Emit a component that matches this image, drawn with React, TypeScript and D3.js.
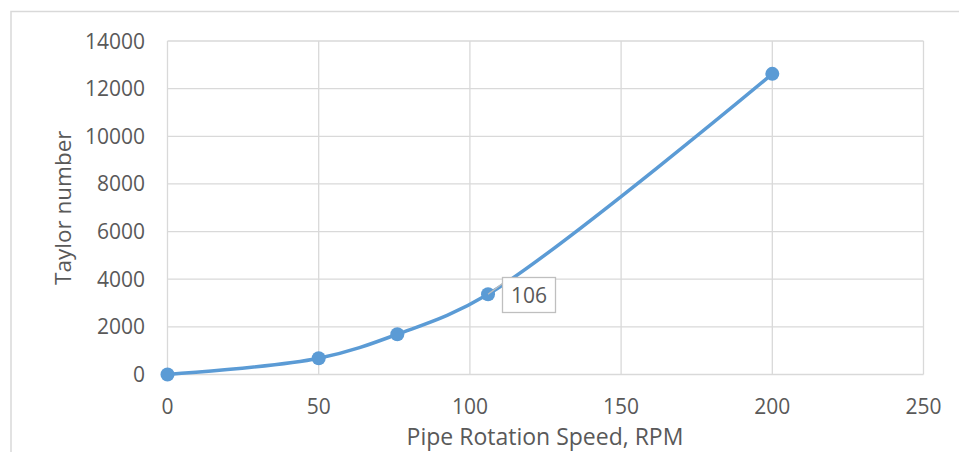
import React from "react";
import * as d3 from "d3";

const rpm: number[] = [0, 50, 76, 106, 200];
const taylor: number[] = [0, 680, 1690, 3370, 12620];
const xTicks: number[] = [0, 50, 100, 150, 200, 250];
const yTicks: number[] = [0, 2000, 4000, 6000, 8000, 10000, 12000, 14000];
const xTitle = "Pipe Rotation Speed, RPM";
const yTitle = "Taylor number";
const labelIndex = 3;

const W = 959;
const H = 452;
const FONT = "'Open Sans', Lato, sans-serif";
const TXT = "#595959";
const GRID = "#d9d9d9";
const BLUE = "#5b9bd5";

export default function App() {
  const x = d3.scaleLinear().domain([0, 250]).range([167.5, 923.5]);
  const y = d3.scaleLinear().domain([0, 14000]).range([374.5, 41]);
  const pts: [number, number][] = rpm.map((r, i) => [x(r), y(taylor[i])]);
  const line = d3.line().curve(d3.curveCatmullRom.alpha(0.5))(pts) || "";
  const lp = pts[labelIndex];
  const bx = 502.5, by = 277.5, bw = 53, bh = 35;
  return (
    <svg
      width={W}
      height={H}
      style={{ position: "absolute", left: 0, top: 0, background: "#fff" }}
    >
      <rect x={11} y={11.5} width={W} height={H} fill="none" stroke={GRID} strokeWidth={1.5} />
      {xTicks.map((t) => (
        <line key={"gx" + t} x1={x(t)} x2={x(t)} y1={y(14000)} y2={y(0)} stroke={GRID} strokeWidth={1.3} />
      ))}
      {yTicks.map((t) => (
        <line key={"gy" + t} x1={x(0)} x2={x(250)} y1={y(t)} y2={y(t)} stroke={GRID} strokeWidth={1.3} />
      ))}
      {yTicks.map((t) => (
        <text key={"ty" + t} x={145} y={y(t) + 7.5} textAnchor="end" fontFamily={FONT} fontSize={21} fill={TXT}>
          {t}
        </text>
      ))}
      {xTicks.map((t) => (
        <text key={"tx" + t} x={x(t)} y={413.5} textAnchor="middle" fontFamily={FONT} fontSize={21} fill={TXT}>
          {t}
        </text>
      ))}
      <text x={545} y={445} textAnchor="middle" fontFamily={FONT} fontSize={23} fill={TXT}>
        {xTitle}
      </text>
      <text
        transform={`translate(71,${(y(0) + y(14000)) / 2}) rotate(-90)`}
        textAnchor="middle"
        fontFamily={FONT}
        fontSize={22.5}
        fill={TXT}
      >
        {yTitle}
      </text>
      <path d={line} fill="none" stroke={BLUE} strokeWidth={3.5} strokeLinecap="round" />
      {pts.map((p, i) => (
        <circle key={"p" + i} cx={p[0]} cy={p[1]} r={7} fill={BLUE} />
      ))}
      <line x1={lp[0]} y1={lp[1]} x2={bx} y2={by + 6} stroke="#bfbfbf" strokeWidth={1.3} />
      <rect x={bx} y={by} width={bw} height={bh} fill="#fff" stroke="#bfbfbf" strokeWidth={1.3} />
      <text x={bx + bw / 2} y={by + bh / 2 + 7.5} textAnchor="middle" fontFamily={FONT} fontSize={21} fill={TXT}>
        {rpm[labelIndex]}
      </text>
    </svg>
  );
}
